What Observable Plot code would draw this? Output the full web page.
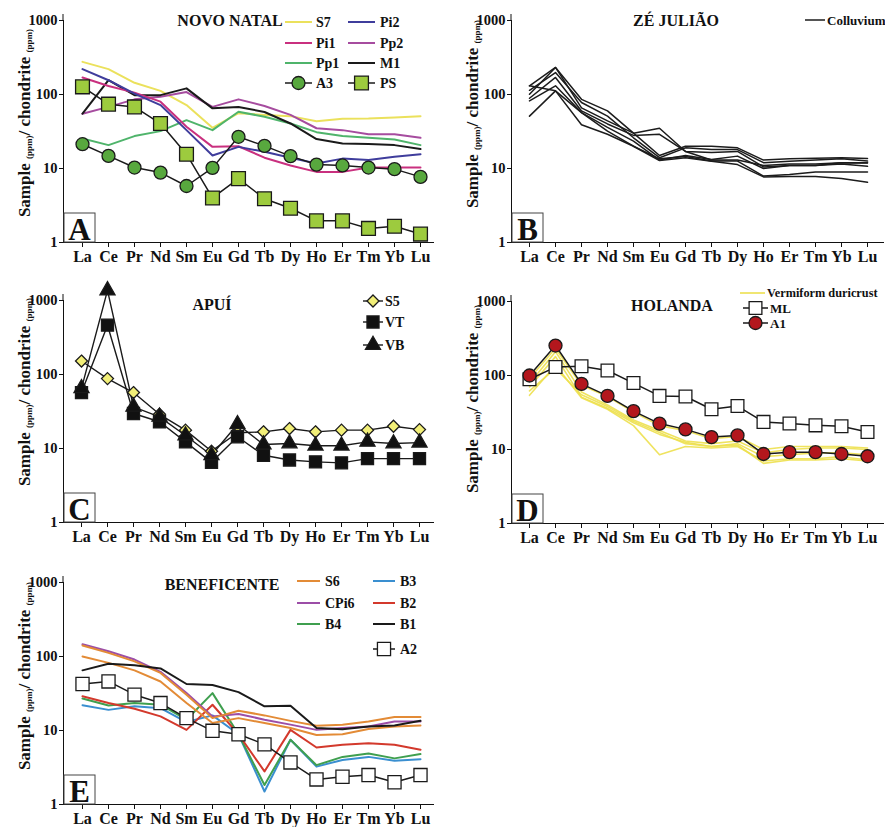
<!DOCTYPE html>
<html><head><meta charset="utf-8">
<script src="https://cdn.jsdelivr.net/npm/d3@7"></script>
<script src="https://cdn.jsdelivr.net/npm/@observablehq/plot@0.6"></script>
<style>
body{margin:0;background:#fff;}
#wrap{position:relative;width:885px;height:827px;overflow:hidden;background:#fff;}
#wrap svg{position:absolute;overflow:visible;}
</style></head><body><div id="wrap"></div>
<script>
// ---------- shared ----------
const REE = ["La","Ce","Pr","Nd","Sm","Eu","Gd","Tb","Dy","Ho","Er","Tm","Yb","Lu"];
const Y_TICKS = [1, 10, 100, 1000];
const Y_LABEL = ["Sample ", "(ppm)", "/ chondrite ", "(ppm)"];

// ---------- Panel A: NOVO NATAL ----------
const A_TITLE = "NOVO NATAL";
const A_S7  = [276,220,144,112,72,35.5,56,53,51,43.6,47,47.5,49,51];
const A_Pi2 = [220,156,103,72,33,15,19.6,16.8,14,11.7,13.6,13,14.4,15.6];
const A_Pi1 = [170,130,106,80,36.6,19.6,20,14,11,9,9,10.3,10.3,10.3];
const A_Pp2 = [55,68,86,93,108,68,86,70,53,35,33,29,29,26];
const A_Pp1 = [25.4,20.7,27.4,32,45,33,58.5,50,40.6,31,27.4,26,24.6,20.7];
const A_M1  = [55,156,98,98,121,65,68,58,40.6,25,21.8,21.5,20.7,18.3];
const A_A3  = [21.3,14.8,10.3,8.8,5.8,10.2,26.8,20.2,14.7,11.3,11,10.3,9.8,7.7];
const A_PS  = [127,74,68,40.5,15.6,4.0,7.3,3.9,2.9,1.96,1.96,1.55,1.66,1.3];

// ---------- Panel B: ZÉ JULIÃO (colluvium samples) ----------
const B_TITLE = "ZÉ JULIÃO";
const B_C1 = [131,232,86,60,30,15,20,20,19,13,13.5,13.8,14,13.7];
const B_C2 = [114,198,78,51,26,14,19,18,18,12,12.5,13,13.5,12.6];
const B_C3 = [101,232,66,44,30,35,17,13,13,11,11.5,11.5,12,12];
const B_C4 = [89,170,60,40,28,29,17,16.5,17,10.5,11,11,12,11.9];
const B_C5 = [82,131,57,36,23.5,13,15,13.2,14.7,10,11,11,11.5,10.7];
const B_C6 = [51,112,57,32,20,13.5,14.5,12.6,12.6,7.9,8.3,9,9,9];
const B_C7 = [131,112,39,29,20,12.8,14,12.5,11.3,7.7,7.8,7.8,7.3,6.5];

// ---------- Panel C: APUÍ ----------
const C_TITLE = "APUÍ";
const C_S5 = [152,88,57,29,17.7,9.2,16.3,16.8,18.6,16.8,17.7,17.7,20,18];
const C_VT = [57,464,29.7,23,12.3,6.5,14.4,8.1,7,6.6,6.4,7.3,7.3,7.3];
const C_VB = [65,1370,36.6,26.8,15,8.1,21.3,11.3,11.7,10.9,10.9,12.3,11.7,12];

// ---------- Panel D: HOLANDA ----------
const D_TITLE = "HOLANDA";
const D_V1 = [91,234,74,52,32,21,18,14,15,10,11,11,11,10.5];
const D_V2 = [78,210,60,40,25,18,13,12,13,9,10,10.5,10.5,10];
const D_V3 = [70,180,51,36,23,16,12.5,11,12,8,8.5,9,9,8.5];
const D_V4 = [54,138,50,35,21,8.5,11,10.5,11,7,7.5,7.5,8,7.2];
const D_V5 = [62,125,55,38,24,17,12,11,11.5,6.5,7.2,7.2,7.5,7];
const D_ML = [89,130,133,117,79,53,52,35,38.6,23.6,22.4,21.2,20.6,17.2];
const D_A1 = [100,254,77,53,33,22.4,18.7,14.7,15.5,8.7,9.2,9.2,8.7,8.1];

// ---------- Panel E: BENEFICENTE ----------
const E_TITLE = "BENEFICENTE";
const E_S6a  = [141,112,86,60,30.5,14.7,18.5,16,13.5,11.6,12,13.2,15.2,15.2];
const E_S6b  = [100,82,65,46,23.5,12.6,14.7,12.6,10.8,8.7,8.9,10.5,11.3,11.7];
const E_CPi6 = [146,118,91,62,32,15.5,16.7,14,12,10.2,10.8,11.3,13.2,13.2];
const E_B1   = [65,80,76,69,42.5,41.2,33,21.2,21.6,10.8,10.4,11.3,11.7,13.5];
const E_B2   = [29,23.5,19.7,15.5,10.2,22.3,8.9,2.8,10.2,5.9,6.4,6.7,6.4,5.5];
const E_B4   = [27,21.8,23.5,22.3,14,32,8.9,1.83,7.5,3.4,4.4,4.9,4.2,4.8];
const E_B3   = [22,19,21.2,20,13,16,8.9,1.5,7.5,3.25,4,4.4,3.9,4.1];
const E_A2   = [42.5,46,30.5,23.5,14.7,9.9,8.9,6.5,3.7,2.18,2.37,2.5,2.0,2.5];

// ---------- drawing ----------
const FONT = "'Liberation Serif','Times New Roman',serif";
const wrap = document.getElementById("wrap");
const SYM = {circle: d3.symbolCircle, square: d3.symbolSquare, diamond2: d3.symbolDiamond2, triangle: d3.symbolTriangle};

function makePanel(cfg) {
  const marks = [];
  for (const s of cfg.series) {
    const rows = REE.map((el, i) => ({el, v: s.values[i]}));
    marks.push(Plot.line(rows, {x: "el", y: "v", stroke: s.stroke, strokeWidth: s.sw ?? 1.7, strokeOpacity: s.op ?? 1}));
  }
  for (const s of cfg.series) {
    if (!s.symbol) continue;
    const rows = REE.map((el, i) => ({el, v: s.values[i]}));
    marks.push(Plot.dot(rows, {x: "el", y: "v", symbol: s.symbol, r: s.r, fill: s.fill, stroke: "#1a1a1a", strokeWidth: 1.3}));
  }
  const svg = Plot.plot({
    width: cfg.width, height: 270,
    marginLeft: 63, marginRight: cfg.width - cfg.axisEnd, marginTop: 20, marginBottom: 28,
    style: {fontFamily: FONT, fontWeight: "bold", fontSize: "16px", color: "#111", background: "transparent", overflow: "visible"},
    x: {type: "point", domain: REE, range: cfg.xRange, padding: 0, line: true, tickSize: 5, tickPadding: 3, label: null},
    y: {type: "log", domain: [1, 1000], ticks: Y_TICKS, tickFormat: d => String(d), line: true, tickSize: 4, tickPadding: 2, label: null},
    marks
  });
  svg.style.left = cfg.left + "px";
  svg.style.top = cfg.top + "px";
  wrap.appendChild(svg);
  const g = d3.select(svg);
  g.selectAll('g[aria-label="y-axis tick label"]').style("font-size", "14.5px");
  // extend the y-axis line a little above 1000, as in the reference
  g.append("line").attr("x1", 63).attr("x2", 63).attr("y1", 14).attr("y2", 20).attr("stroke", "#111");

  // title
  g.append("text").attr("x", cfg.titleX).attr("y", cfg.titleY).attr("text-anchor", "middle")
    .style("font-size", "16px").style("font-weight", "bold").attr("fill", "#111").text(cfg.title);

  // y label with subscripts
  const t = g.append("text").attr("transform", `translate(30,${cfg.labelY}) rotate(-90)`)
    .attr("text-anchor", "middle").style("font-size", "17px").style("font-weight", "bold").attr("fill", "#111");
  t.append("tspan").text(Y_LABEL[0]);
  t.append("tspan").style("font-size", "9px").attr("dy", 1.5).text(Y_LABEL[1]);
  t.append("tspan").attr("dy", -1.5).text(Y_LABEL[2]);
  t.append("tspan").style("font-size", "9px").attr("dy", 1.5).text(Y_LABEL[3]);

  // panel letter box
  g.append("rect").attr("x", 64).attr("y", 213).attr("width", 31).attr("height", 29)
    .attr("fill", "#fff").attr("stroke", "#444").attr("stroke-width", 1);
  g.append("text").attr("x", 79.5).attr("y", 240).attr("text-anchor", "middle")
    .style("font-size", "31px").style("font-weight", "bold").attr("fill", "#111").text(cfg.letter);

  // legend
  for (const it of cfg.legend) {
    const s = it.s;
    g.append("line").attr("x1", it.x1).attr("x2", it.x2).attr("y1", it.y).attr("y2", it.y)
      .attr("stroke", s.stroke).attr("stroke-width", s.sw ?? 1.7);
    if (s.symbol) {
      g.append("path").attr("d", d3.symbol(SYM[s.symbol], Math.PI * s.r * s.r)())
        .attr("transform", `translate(${(it.x1 + it.x2) / 2},${it.y})`)
        .attr("fill", s.fill).attr("stroke", "#1a1a1a").attr("stroke-width", 1.3);
    }
    g.append("text").attr("x", it.tx).attr("y", it.y).attr("dy", "0.35em").attr("text-anchor", "start")
      .style("font-size", (it.fs || cfg.legendFont || 14) + "px").style("font-weight", "bold").attr("fill", "#111").text(it.label);
  }
}

// Panel A
const sA = {
  S7: {values: A_S7, stroke: "#ebe15c", sw: 2},
  Pi2: {values: A_Pi2, stroke: "#3f3d9c", sw: 2},
  Pi1: {values: A_Pi1, stroke: "#c9307f", sw: 2},
  Pp2: {values: A_Pp2, stroke: "#a64c9f", sw: 2},
  Pp1: {values: A_Pp1, stroke: "#4fb46b", sw: 2},
  M1: {values: A_M1, stroke: "#1a1a1a", sw: 2},
  A3: {values: A_A3, stroke: "#1a1a1a", sw: 1.5, symbol: "circle", r: 6.5, fill: "#58a83e"},
  PS: {values: A_PS, stroke: "#1a1a1a", sw: 1.5, symbol: "square", r: 7.8, fill: "#9dcb3e"}
};
makePanel({
  left: 0, top: 0, width: 445, axisEnd: 433, xRange: [78, 423], title: A_TITLE, titleX: 230, titleY: 26, labelY: 123, letter: "A",
  series: [sA.S7, sA.Pp2, sA.Pp1, sA.M1, sA.Pi1, sA.Pi2, sA.A3, sA.PS],
  legend: [
    {s: sA.S7, label: "S7", x1: 285, x2: 312, y: 22, tx: 316},
    {s: sA.Pi2, label: "Pi2", x1: 348, x2: 375, y: 22, tx: 380},
    {s: sA.Pi1, label: "Pi1", x1: 285, x2: 312, y: 43, tx: 316},
    {s: sA.Pp2, label: "Pp2", x1: 348, x2: 375, y: 43, tx: 380},
    {s: sA.Pp1, label: "Pp1", x1: 285, x2: 312, y: 63, tx: 316},
    {s: sA.M1, label: "M1", x1: 348, x2: 375, y: 63, tx: 380},
    {s: sA.A3, label: "A3", x1: 285, x2: 312, y: 83, tx: 316},
    {s: sA.PS, label: "PS", x1: 348, x2: 375, y: 83, tx: 380}
  ]
});

// Panel B
const colB = v => ({values: v, stroke: "#1c1c1c", sw: 1.5});
makePanel({
  left: 448, top: 0, width: 437, axisEnd: 435, xRange: [79, 421], title: B_TITLE, titleX: 228, titleY: 26, labelY: 114, letter: "B",
  series: [B_C1, B_C2, B_C3, B_C4, B_C5, B_C6, B_C7].map(colB),
  legendFont: 13,
  legend: [{s: colB(B_C1), label: "Colluvium", x1: 357, x2: 377, y: 20, tx: 379}]
});

// Panel C
const sC = {
  S5: {values: C_S5, stroke: "#1a1a1a", sw: 1.4, symbol: "diamond2", r: 5.4, fill: "#f2ef78"},
  VT: {values: C_VT, stroke: "#1a1a1a", sw: 1.4, symbol: "square", r: 6.8, fill: "#111"},
  VB: {values: C_VB, stroke: "#1a1a1a", sw: 1.4, symbol: "triangle", r: 5.6, fill: "#111"}
};
makePanel({
  left: 0, top: 280, width: 445, axisEnd: 433, xRange: [77, 423], title: C_TITLE, titleX: 212, titleY: 30, labelY: 112, letter: "C",
  series: [sC.S5, sC.VT, sC.VB],
  legend: [
    {s: sC.S5, label: "S5", x1: 363, x2: 383, y: 21, tx: 385},
    {s: sC.VT, label: "VT", x1: 363, x2: 383, y: 42, tx: 385},
    {s: sC.VB, label: "VB", x1: 363, x2: 383, y: 65, tx: 385}
  ]
});

// Panel D
const verm = v => ({values: v, stroke: "#ede04e", sw: 1.6, op: 0.9});
const sD = {
  ML: {values: D_ML, stroke: "#1a1a1a", sw: 1.5, symbol: "square", r: 7.2, fill: "#fff"},
  A1: {values: D_A1, stroke: "#1a1a1a", sw: 1.5, symbol: "circle", r: 6.5, fill: "#b3171d"}
};
makePanel({
  left: 448, top: 281, width: 437, axisEnd: 435, xRange: [78, 422], title: D_TITLE, titleX: 224, titleY: 30, labelY: 118, letter: "D",
  series: [...[D_V1, D_V2, D_V3, D_V4, D_V5].map(verm), sD.ML, sD.A1],
  legendFont: 13,
  legend: [
    {s: verm(D_V1), label: "Vermiform duricrust", x1: 292, x2: 317, y: 12, tx: 319, fs: 12.3},
    {s: sD.ML, label: "ML", x1: 295, x2: 320, y: 27, tx: 322},
    {s: sD.A1, label: "A1", x1: 295, x2: 320, y: 42, tx: 322}
  ]
});

// Panel E
const sE = {
  S6a: {values: E_S6a, stroke: "#e38b36", sw: 2},
  S6b: {values: E_S6b, stroke: "#e38b36", sw: 2},
  CPi6: {values: E_CPi6, stroke: "#9c4ea7", sw: 2},
  B1: {values: E_B1, stroke: "#1a1a1a", sw: 2},
  B2: {values: E_B2, stroke: "#d3392c", sw: 2},
  B4: {values: E_B4, stroke: "#3f9f4f", sw: 2},
  B3: {values: E_B3, stroke: "#3a8fd0", sw: 2},
  A2: {values: E_A2, stroke: "#1a1a1a", sw: 1.5, symbol: "square", r: 7.4, fill: "#fff"}
};
makePanel({
  left: 0, top: 562, width: 445, axisEnd: 433, xRange: [79, 423], title: E_TITLE, titleX: 222, titleY: 28, labelY: 114, letter: "E",
  series: [sE.B3, sE.B4, sE.B2, sE.S6b, sE.CPi6, sE.S6a, sE.B1, sE.A2],
  legend: [
    {s: sE.S6a, label: "S6", x1: 297, x2: 320, y: 19, tx: 325},
    {s: sE.B3, label: "B3", x1: 373, x2: 395, y: 19, tx: 400},
    {s: sE.CPi6, label: "CPi6", x1: 297, x2: 320, y: 41, tx: 325},
    {s: sE.B2, label: "B2", x1: 373, x2: 395, y: 41, tx: 400},
    {s: sE.B4, label: "B4", x1: 297, x2: 320, y: 62, tx: 325},
    {s: sE.B1, label: "B1", x1: 373, x2: 395, y: 62, tx: 400},
    {s: sE.A2, label: "A2", x1: 373, x2: 395, y: 87, tx: 400}
  ]
});
</script></body></html>
